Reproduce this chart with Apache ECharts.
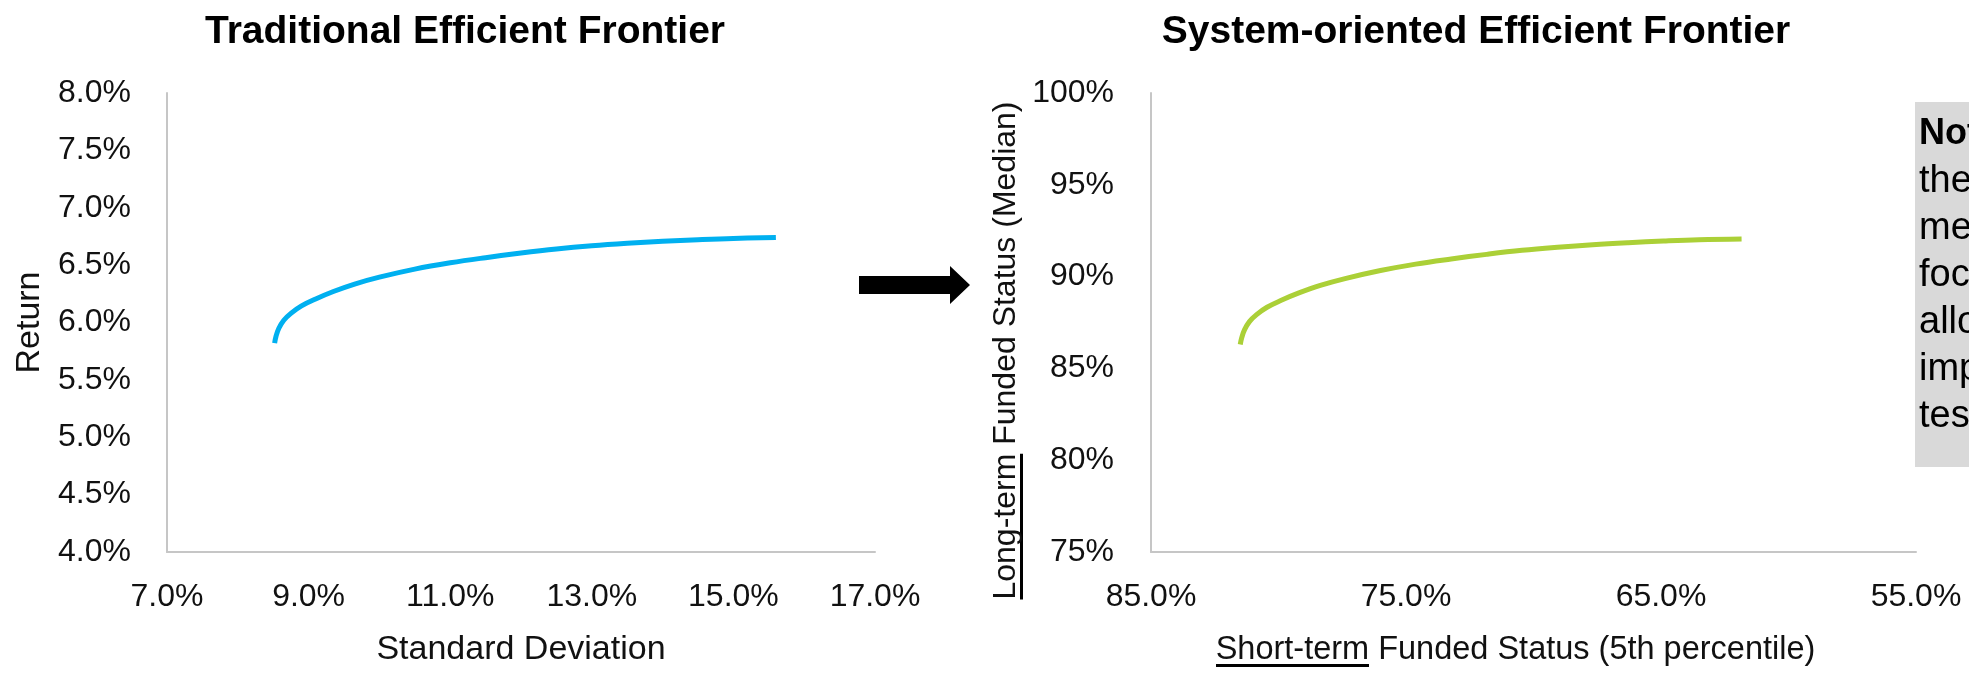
<!DOCTYPE html>
<html>
<head>
<meta charset="utf-8">
<title>Efficient Frontier</title>
<script src="https://cdn.jsdelivr.net/npm/echarts@6/dist/echarts.min.js"></script>
<style>
  html, body { margin: 0; padding: 0; background: #fff; }
  #container { width: 1969px; height: 674px; }
</style>
</head>
<body>
<div id="container"></div>
<script type="text/javascript">
// traditional frontier: standard deviation (%) vs return (%)
var stdDev  = [8.52, 8.54, 8.58, 8.65, 8.75, 8.90, 9.10, 9.35, 9.65, 10.0, 10.5, 11.0, 11.5, 12.0, 12.5, 13.0, 13.5, 14.0, 14.5, 15.0, 15.6];
var returns = [5.82, 5.88, 5.95, 6.02, 6.08, 6.145, 6.205, 6.27, 6.335, 6.395, 6.465, 6.52, 6.565, 6.605, 6.64, 6.668, 6.69, 6.708, 6.722, 6.733, 6.74];

// system-oriented frontier: short-term FS (5th pct) vs long-term FS (median)
var shortTermFS = [81.5, 81.44, 81.33, 81.14, 80.86, 80.45, 79.89, 79.2, 78.36, 77.39, 76.0, 74.62, 73.23, 71.84, 70.45, 69.06, 67.68, 66.29, 64.9, 63.51, 61.84];
var longTermFS  = [86.3, 86.68, 87.11, 87.55, 87.93, 88.33, 88.71, 89.11, 89.52, 89.89, 90.33, 90.68, 90.96, 91.21, 91.43, 91.6, 91.74, 91.85, 91.94, 92.01, 92.05];

// axis ranges [min, max, step]
var sdAxis  = [7, 17, 2];
var retAxis = [4, 8, 0.5];
var stAxis  = [55, 85, 10];
var ltAxis  = [75, 100, 5];

var noteLines = ['Compared to', 'the traditional', 'measures, this', 'focuses the asset', 'allocation on its', 'impact to stress', 'testing results.'];

var font = "'Liberation Sans', Arial, sans-serif";
var dom = document.getElementById("container");
var myChart = echarts.init(dom, null, { renderer: 'canvas' });

// little strip used as background image -> underline for rich text
var ul = document.createElement('canvas');
ul.width = 4; ul.height = 34;
var g = ul.getContext('2d');
g.fillStyle = '#000';
g.fillRect(0, 31, 4, 3);

function zip(a, b) {
    var out = [];
    for (var i = 0; i < a.length; i++) out.push([a[i], b[i]]);
    return out;
}

var axisLine = { show: true, onZero: false, lineStyle: { color: '#c6c6c6', width: 2 } };
var labelStyle = { fontSize: 32, color: '#111', fontFamily: font };

var noteText = '{b|Note:}{n| ' + noteLines[0] + '}';
for (var i = 1; i < noteLines.length; i++) noteText += '\n{n|' + noteLines[i] + '}';

option = {
    animation: false,
    textStyle: { fontFamily: font },
    title: [
        { text: 'Traditional Efficient Frontier', left: 460, top: 8, textAlign: 'center',
          textStyle: { fontSize: 39, fontWeight: 'bold', color: '#000', fontFamily: font } },
        { text: 'System-oriented Efficient Frontier', left: 1471, top: 8, textAlign: 'center',
          textStyle: { fontSize: 39, fontWeight: 'bold', color: '#000', fontFamily: font } }
    ],
    grid: [
        { left: 167, top: 93, width: 708, height: 459, outerBoundsMode: 'none' },
        { left: 1151, top: 93, width: 765, height: 459, outerBoundsMode: 'none' }
    ],
    xAxis: [
        { type: 'value', gridIndex: 0, min: sdAxis[0], max: sdAxis[1], interval: sdAxis[2],
          axisLine: axisLine, axisTick: { show: false }, splitLine: { show: false },
          axisLabel: Object.assign({ margin: 29, formatter: function (v) { return v.toFixed(1) + '%'; } }, labelStyle),
          name: 'Standard Deviation', nameLocation: 'middle', nameGap: 81,
          nameTextStyle: { fontSize: 34, color: '#111', fontFamily: font, lineHeight: 34 } },
        { type: 'value', gridIndex: 1, min: stAxis[0], max: stAxis[1], interval: stAxis[2], inverse: true,
          axisLine: axisLine, axisTick: { show: false }, splitLine: { show: false },
          axisLabel: Object.assign({ margin: 29, formatter: function (v) { return v.toFixed(1) + '%'; } }, labelStyle),
          name: '{u|Short-term}{n| Funded Status (5th percentile)}', nameLocation: 'middle', nameGap: 81,
          nameTextStyle: { padding: [0, 36, 0, 0], rich: {
              u: { fontSize: 32.5, color: '#111', fontFamily: font, height: 34, lineHeight: 34, backgroundColor: { image: ul } },
              n: { fontSize: 32.5, color: '#111', fontFamily: font, lineHeight: 34 }
          } } }
    ],
    yAxis: [
        { type: 'value', gridIndex: 0, min: retAxis[0], max: retAxis[1], interval: retAxis[2],
          axisLine: axisLine, axisTick: { show: false }, splitLine: { show: false },
          axisLabel: Object.assign({ margin: 36, formatter: function (v) { return v.toFixed(1) + '%'; } }, labelStyle),
          name: 'Return', nameLocation: 'middle', nameGap: 120,
          nameTextStyle: { fontSize: 34, color: '#111', fontFamily: font, lineHeight: 34 } },
        { type: 'value', gridIndex: 1, min: ltAxis[0], max: ltAxis[1], interval: ltAxis[2],
          axisLine: axisLine, axisTick: { show: false }, splitLine: { show: false },
          axisLabel: Object.assign({ margin: 37, formatter: function (v) { return v + '%'; } }, labelStyle),
          name: '{u|Long-term}{n| Funded Status (Median)}', nameLocation: 'middle', nameGap: 128,
          nameTextStyle: { padding: [0, 56, 0, 0], rich: {
              u: { fontSize: 32, color: '#111', fontFamily: font, height: 34, lineHeight: 34, backgroundColor: { image: ul } },
              n: { fontSize: 32, color: '#111', fontFamily: font, lineHeight: 34 }
          } } }
    ],
    series: [
        { type: 'line', xAxisIndex: 0, yAxisIndex: 0, data: zip(stdDev, returns),
          showSymbol: false, smooth: 0.4, lineStyle: { color: '#00B0F0', width: 5 } },
        { type: 'line', xAxisIndex: 1, yAxisIndex: 1, data: zip(shortTermFS, longTermFS),
          showSymbol: false, smooth: 0.4, lineStyle: { color: '#ABD037', width: 5 } }
    ],
    graphic: [
        { type: 'polygon', silent: true,
          shape: { points: [[859, 276], [950, 276], [950, 266], [970, 285], [950, 304], [950, 294], [859, 294]] },
          style: { fill: '#000' } },
        { type: 'rect', silent: true, shape: { x: 1915, y: 102, width: 60, height: 365 }, style: { fill: '#D9D9D9' } },
        { type: 'text', silent: true, x: 1919, y: 111,
          style: { text: noteText, fill: '#000', rich: {
              b: { fontSize: 36, fontWeight: 'bold', fontFamily: font, lineHeight: 47, fill: '#000' },
              n: { fontSize: 38, fontFamily: font, lineHeight: 47, fill: '#000' }
          } } }
    ]
};

if (option && typeof option === "object") {
    myChart.setOption(option, true);
}
</script>
</body>
</html>
